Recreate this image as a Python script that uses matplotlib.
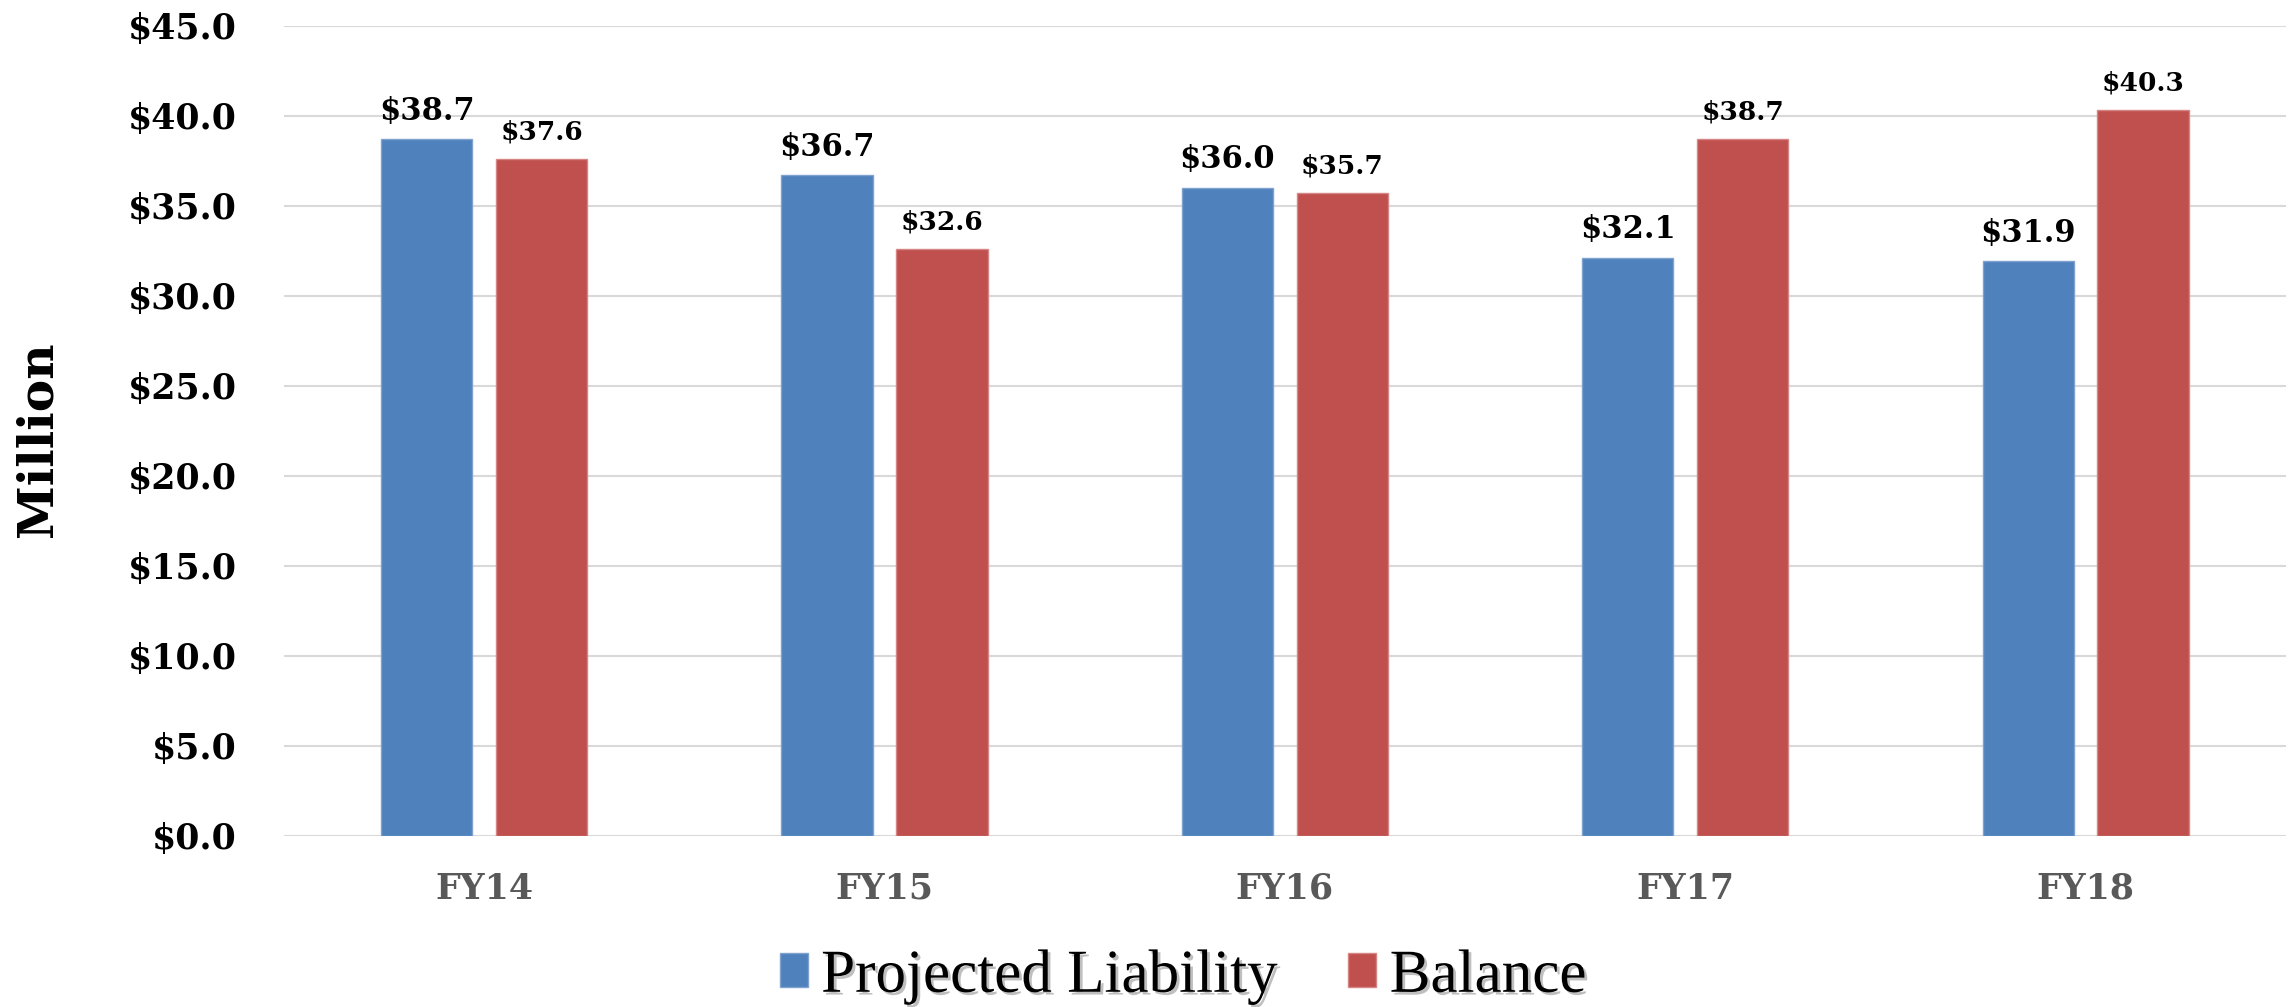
import numpy as np
import matplotlib
matplotlib.use("Agg")
import matplotlib.pyplot as plt
import matplotlib.patheffects as pe

# data
years = ["FY14", "FY15", "FY16", "FY17", "FY18"]
projected_liability = [38.7, 36.7, 36.0, 32.1, 31.9]
balance = [37.6, 32.6, 35.7, 38.7, 40.3]
y_ticks = [0, 5, 10, 15, 20, 25, 30, 35, 40, 45]

BLUE = "#4F81BD"
RED = "#C0504D"
SERIF = "DejaVu Serif"

fig = plt.figure(figsize=(22.95, 10.07), dpi=100)
ax = fig.add_axes([0.1237, 0.1701, 0.8723, 0.8044])

x = np.arange(len(years))
w = 0.228
off = 0.1435
b1 = ax.bar(x - off, projected_liability, w, color=BLUE, edgecolor="#7FA2CF",
            linewidth=1, label="Projected Liability", zorder=3)
b2 = ax.bar(x + off, balance, w, color=RED, edgecolor="#D58684",
            linewidth=1, label="Balance", zorder=3)

# ── data labels ──────────────────────────────────────────────
for xi, v in zip(x, projected_liability):
    ax.annotate(f"${v:.1f}", (xi - off, v), xytext=(0, 14), textcoords="offset points",
                ha="center", va="baseline", fontsize=22, fontweight="bold",
                family=SERIF, color="black")
for xi, v in zip(x, balance):
    ax.annotate(f"${v:.1f}", (xi + off, v), xytext=(0, 14), textcoords="offset points",
                ha="center", va="baseline", fontsize=19, fontweight="bold",
                family=SERIF, color="black")

# ── axes ─────────────────────────────────────────────────────
ax.set_xlim(-0.5, len(years) - 0.5)
ax.set_ylim(0, 45)
ax.set_yticks(y_ticks)
ax.set_yticklabels([f"${t:.1f}" for t in y_ticks], fontsize=25, fontweight="bold",
                   family=SERIF, color="black")
ax.set_xticks(x)
ax.set_xticklabels(years, fontsize=25, fontweight="bold", family=SERIF, color="#595959")
ax.tick_params(axis="y", length=0, pad=34)
ax.tick_params(axis="x", length=0, pad=26)
for s in ax.spines.values():
    s.set_visible(False)
ax.grid(axis="y", color="#D9D9D9", linewidth=1.5, zorder=0)
ax.set_axisbelow(True)

fig.text(0.0165, 0.564, "Million", rotation=90, ha="center", va="center",
         fontsize=35, fontweight="bold", family=SERIF, color="black")

# ── legend ───────────────────────────────────────────────────
leg = fig.legend(handles=[b1, b2], loc="center", bbox_to_anchor=(0.5155, 0.03),
                 ncol=2, frameon=False, prop={"family": "Liberation Serif", "size": 44},
                 handlelength=0.46, handleheight=0.46, handletextpad=0.22,
                 columnspacing=1.15, borderpad=0)
for t in leg.get_texts():
    t.set_path_effects([pe.withSimplePatchShadow(offset=(2, -2), shadow_rgbFace="#808080",
                                                 alpha=0.5)])

fig.savefig("out.png", dpi=100)
